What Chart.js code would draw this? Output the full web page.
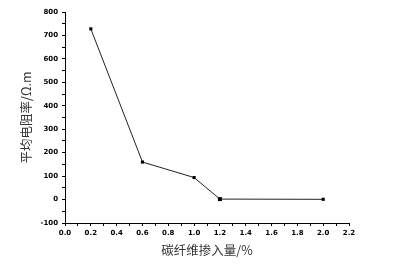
<!DOCTYPE html>
<html>
<head>
<meta charset="utf-8">
<script src="https://cdn.jsdelivr.net/npm/chart.js@4/dist/chart.umd.min.js"></script>
<style>
    html, body { margin: 0; padding: 0; background: #fff; }
    #box { width: 404px; height: 273px; }
</style>
</head>
<body>
<div id="box"><canvas id="resistChart" width="404" height="273"></canvas></div>
<script>
// 碳纤维掺入量 (%) 与平均电阻率 (Ω.m)
const fiberContent = [0.2, 0.6, 1.0, 1.2, 2.0];
const resistivity = [728, 160, 94, 2, 1];
const xTickRange = [0, 2.2];
const yTickRange = [-100, 800];

const tickFont = { family: 'DejaVu Sans', size: 7, weight: 'bold' };
const cjkFont = { family: "'Noto Sans CJK SC', sans-serif", size: 12.5 };

new Chart(document.getElementById('resistChart'), {
    type: 'line',
    data: {
        datasets: [{
            data: fiberContent.map((x, i) => ({ x: x, y: resistivity[i] })),
            borderColor: '#222',
            borderWidth: 1,
            backgroundColor: '#000',
            pointStyle: 'rect',
            pointRadius: [2.2, 2.2, 2.2, 2.8, 2.2],
            pointBorderWidth: 0,
            tension: 0
        }]
    },
    options: {
        responsive: false,
        animation: false,
        layout: { padding: { left: 0, right: 55, top: 12, bottom: 0 } },
        plugins: { legend: { display: false }, tooltip: { enabled: false } },
        scales: {
            x: {
                type: 'linear',
                min: xTickRange[0],
                max: xTickRange[1],
                afterFit: s => { s.height = 50; },
                border: { color: '#000', width: 1 },
                grid: { drawOnChartArea: false, tickLength: 3, tickColor: '#000' },
                ticks: {
                    stepSize: 0.1,
                    autoSkip: false,
                    maxRotation: 0,
                    padding: 3,
                    color: '#000',
                    font: tickFont,
                    callback: v => (Math.round(v * 10) % 2 === 0 ? v.toFixed(1) : '')
                },
                title: { display: true, text: '碳纤维掺入量/%', color: '#333', font: cjkFont, padding: { top: 0, bottom: 15 } }
            },
            y: {
                min: yTickRange[0],
                max: yTickRange[1],
                afterFit: s => { s.width = 65; },
                border: { color: '#000', width: 1 },
                grid: { drawOnChartArea: false, tickLength: 3, tickColor: '#000' },
                ticks: {
                    stepSize: 50,
                    autoSkip: false,
                    padding: 4,
                    color: '#000',
                    font: tickFont,
                    callback: v => (v % 100 === 0 ? String(v) : '')
                },
                title: { display: true, text: '平均电阻率/Ω.m', color: '#333', font: cjkFont, padding: { top: 19, bottom: 0 } }
            }
        }
    }
});
</script>
</body>
</html>
